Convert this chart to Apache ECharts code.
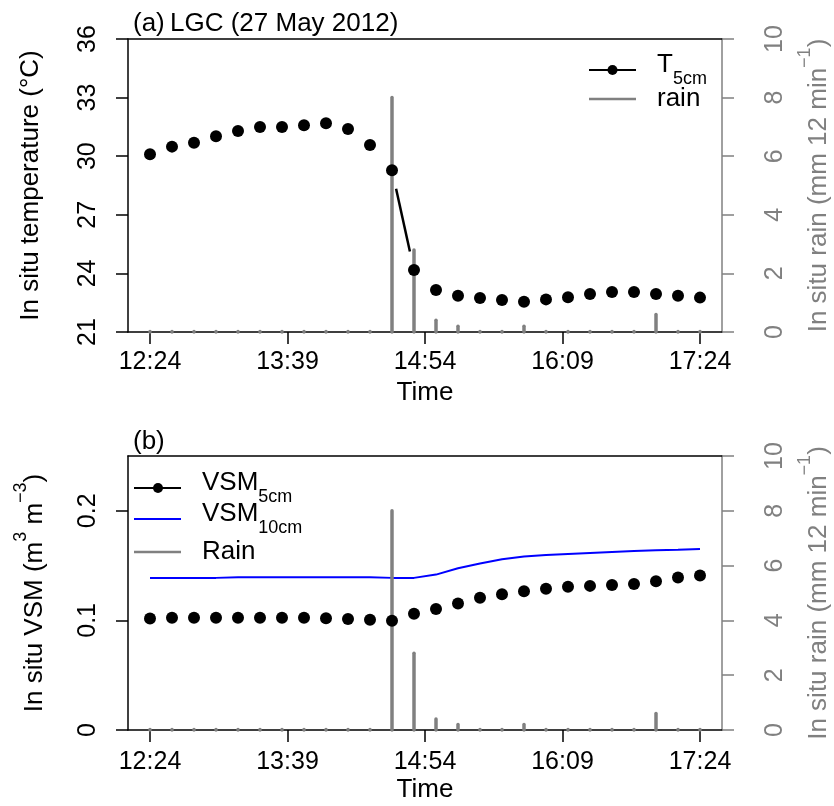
<!DOCTYPE html>
<html><head><meta charset="utf-8">
<script src="https://cdn.jsdelivr.net/npm/echarts@6/dist/echarts.min.js"></script>
<style>html,body{margin:0;padding:0;background:#fff}#c{width:834px;height:806px}</style>
</head><body><div id="c"></div>
<script>
// ---------------- data ----------------
const times = ["12:24","12:36","12:48","13:00","13:12","13:24","13:36","13:48","14:00","14:12","14:24","14:36","14:48",
               "15:00","15:12","15:24","15:36","15:48","16:00","16:12","16:24","16:36","16:48","17:00","17:12","17:24"];
const temp5cm = [30.10,30.49,30.69,31.02,31.29,31.50,31.50,31.58,31.69,31.39,30.57,29.28,24.17,
                 23.15,22.86,22.74,22.64,22.55,22.67,22.78,22.95,23.05,23.05,22.95,22.86,22.76];
const rain = [0,0,0,0,0,0,0,0,0,0,0,8.0,2.8,0.4,0.2,0,0,0.2,0,0,0,0,0,0.6,0,0];
const vsm5cm = [0.1018,0.1024,0.1024,0.1024,0.1024,0.1024,0.1024,0.1024,0.1020,0.1012,0.1006,0.0997,0.1061,
                0.1103,0.1155,0.1206,0.1239,0.1267,0.1288,0.1306,0.1315,0.1324,0.1333,0.1357,0.1391,0.1409];
const vsm10cm = [0.1388,0.1388,0.1388,0.1388,0.1394,0.1394,0.1394,0.1394,0.1394,0.1394,0.1394,0.1388,0.1388,
                 0.1418,0.1476,0.1520,0.1557,0.1582,0.1597,0.1606,0.1615,0.1624,0.1633,0.1639,0.1645,0.1652];
const timeTicks = ["12:24","13:39","14:54","16:09","17:24"];
const tempTicks = [21,24,27,30,33,36];
const vsmTicks = [0,0.1,0.2];
const rainTicks = [0,2,4,6,8,10];

// ---------------- helpers ----------------
const FONT = "'Liberation Sans', Arial, Helvetica, sans-serif";
const GRAY = '#808080';
const abs = s => { const p = s.split(':').map(Number); return p[0]*60 + p[1]; };
const base = abs(times[0]);
const toMin = s => abs(s) - base;
const fromMin = v => { const t = Math.round(v + base); return Math.floor(t/60) + ':' + String(t%60).padStart(2,'0'); };
const xs = times.map(toMin);
const span = xs[xs.length-1] - xs[0];
const xMin = xs[0] - 0.04*span, xMax = xs[xs.length-1] + 0.04*span;
const xTickVals = timeTicks.map(toMin);

const tempPts = xs.map((x,i) => [x, temp5cm[i]]);
const vsm5Pts = xs.map((x,i) => [x, vsm5cm[i]]);
const vsm10Pts = xs.map((x,i) => [x, vsm10cm[i]]);
const rainPts = xs.map((x,i) => [x, rain[i]]);
const segs = arr => arr.slice(0,-1).map((p,i) => [p[0], p[1], arr[i+1][0], arr[i+1][1]]);

function segRender(params, api) {
  const a = api.coord([api.value(0), api.value(1)]);
  const b = api.coord([api.value(2), api.value(3)]);
  const dx = b[0]-a[0], dy = b[1]-a[1], L = Math.hypot(dx, dy);
  const gap = 19;
  if (L <= 2*gap) return {type:'group', children:[]};
  const ux = dx/L, uy = dy/L;
  return {type:'line', shape:{x1:a[0]+ux*gap, y1:a[1]+uy*gap, x2:b[0]-ux*gap, y2:b[1]-uy*gap},
          style:{stroke:'#000', lineWidth:2.5, lineCap:'butt'}};
}
function rainRender(params, api) {
  const x = api.value(0), v = api.value(1);
  const p0 = api.coord([x, 0]), p1 = api.coord([x, v]);
  const y2 = Math.min(p1[1], p0[1] - 0.6);
  return {type:'line', shape:{x1:p0[0], y1:p0[1], x2:p1[0], y2:y2},
          style:{stroke:GRAY, lineWidth:3.5, lineCap:'round'}};
}

const rich = {
  m:{fontSize:26, fontFamily:FONT, lineHeight:36, verticalAlign:'bottom'},
  sup:{fontSize:18, fontFamily:FONT, lineHeight:16, verticalAlign:'top'},
  mt:{fontSize:26, fontFamily:FONT, lineHeight:36, verticalAlign:'top'},
  sub:{fontSize:18, fontFamily:FONT, lineHeight:16, verticalAlign:'bottom'}
};
function richColored(color) {
  const r = {};
  for (const k in rich) r[k] = Object.assign({color}, rich[k]);
  return r;
}

const grids = [
  {left:128, top:39, width:594, height:293, outerBoundsMode:'none', containLabel:false},
  {left:128, top:456, width:594, height:274, outerBoundsMode:'none', containLabel:false}
];

function xBottom(g, margin, nameGap) {
  return {
    type:'value', gridIndex:g, position:'bottom', min:xMin, max:xMax,
    axisLine:{show:true, onZero:false, lineStyle:{color:'#000', width:1.5}},
    axisTick:{show:true, length:12, customValues:xTickVals, lineStyle:{color:'#000', width:1.5}},
    axisLabel:{customValues:xTickVals, formatter:v => fromMin(v), color:'#000', fontSize:25, fontFamily:FONT, margin},
    splitLine:{show:false},
    name:'Time', nameLocation:'middle', nameGap,
    nameTextStyle:{color:'#000', fontSize:26, fontFamily:FONT}
  };
}
function xTop(g) {
  return {
    type:'value', gridIndex:g, position:'top', min:xMin, max:xMax,
    axisLine:{show:true, onZero:false, lineStyle:{color:'#000', width:1.5}},
    axisTick:{show:false}, axisLabel:{show:false}, splitLine:{show:false}
  };
}
function yLeft(g, min, max, ticks, name, nameGap) {
  return {
    type:'value', gridIndex:g, position:'left', min, max,
    axisLine:{show:true, onZero:false, lineStyle:{color:'#000', width:1.5}},
    axisTick:{show:true, length:12, customValues:ticks, lineStyle:{color:'#000', width:1.5}},
    axisLabel:{customValues:ticks, rotate:90, color:'#000', fontSize:25, fontFamily:FONT, margin:27,
               formatter:v => String(v)},
    splitLine:{show:false},
    name, nameLocation:'middle', nameGap,
    nameTextStyle:{color:'#000', fontSize:26, fontFamily:FONT, rich:richColored('#000')}
  };
}
function yRight(g) {
  return {
    type:'value', gridIndex:g, position:'right', min:rainTicks[0], max:rainTicks[rainTicks.length-1], interval:2,
    axisLine:{show:true, onZero:false, lineStyle:{color:GRAY, width:1.5}},
    axisTick:{show:true, length:12, lineStyle:{color:GRAY, width:1.5}},
    axisLabel:{rotate:90, color:GRAY, fontSize:25, fontFamily:FONT, margin:41},
    splitLine:{show:false},
    name:'{m|In situ rain (mm 12 min}{sup|\u22121}{m|)}', nameLocation:'middle', nameGap:70,
    nameTextStyle:{color:GRAY, fontSize:26, fontFamily:FONT, rich:richColored(GRAY)}
  };
}

const legendGraphics = [
  // panel a
  {type:'line', shape:{x1:589, y1:70, x2:636, y2:70}, style:{stroke:'#000', lineWidth:2}},
  {type:'circle', shape:{cx:612.5, cy:70, r:5}, style:{fill:'#000'}},
  {type:'text', x:657, y:70, style:{text:'{mt|T}{sub|5cm}', rich:richColored('#000'), verticalAlign:'middle', align:'left'}},
  {type:'line', shape:{x1:589, y1:99, x2:636, y2:99}, style:{stroke:GRAY, lineWidth:2.5}},
  {type:'text', x:657, y:99, style:{text:'rain', fill:'#000', font:'26px ' + FONT, verticalAlign:'middle', align:'left'}},
  // panel b
  {type:'line', shape:{x1:134, y1:488, x2:181, y2:488}, style:{stroke:'#000', lineWidth:2}},
  {type:'circle', shape:{cx:158, cy:488, r:5}, style:{fill:'#000'}},
  {type:'text', x:202, y:488, style:{text:'{mt|VSM}{sub|5cm}', rich:richColored('#000'), verticalAlign:'middle', align:'left'}},
  {type:'line', shape:{x1:134, y1:519, x2:181, y2:519}, style:{stroke:'#0000ff', lineWidth:2}},
  {type:'text', x:202, y:519, style:{text:'{mt|VSM}{sub|10cm}', rich:richColored('#000'), verticalAlign:'middle', align:'left'}},
  {type:'line', shape:{x1:134, y1:552, x2:181, y2:552}, style:{stroke:GRAY, lineWidth:2.5}},
  {type:'text', x:202, y:552, style:{text:'Rain', fill:'#000', font:'26px ' + FONT, verticalAlign:'middle', align:'left'}},
  // panel titles
  {type:'text', x:133, y:24, style:{text:'(a)', fill:'#000', font:'26px ' + FONT, verticalAlign:'middle', align:'left'}},
  {type:'text', x:170, y:24, style:{text:'LGC (27 May 2012)', fill:'#000', font:'26px ' + FONT, verticalAlign:'middle', align:'left'}},
  {type:'text', x:133, y:442, style:{text:'(b)', fill:'#000', font:'26px ' + FONT, verticalAlign:'middle', align:'left'}}
];

const option = {
  animation:false,
  backgroundColor:'#fff',
  grid:grids,
  xAxis:[xBottom(0, 18, 48), xBottom(1, 20, 47), xTop(0), xTop(1)],
  yAxis:[
    yLeft(0, tempTicks[0], tempTicks[tempTicks.length-1], tempTicks, 'In situ temperature (\u00b0C)', 84),
    yRight(0),
    yLeft(1, vsmTicks[0], 0.25, vsmTicks, '{m|In situ VSM (m}{sup|3}{m| m}{sup|\u22123}{m|)}', 80),
    yRight(1)
  ],
  series:[
    {type:'custom', xAxisIndex:0, yAxisIndex:1, data:rainPts, renderItem:rainRender, z:2, silent:true},
    {type:'custom', xAxisIndex:0, yAxisIndex:0, data:segs(tempPts), renderItem:segRender, z:3, silent:true},
    {type:'scatter', xAxisIndex:0, yAxisIndex:0, data:tempPts, symbol:'circle', symbolSize:12,
     itemStyle:{color:'#000', opacity:1}, z:4, silent:true},

    {type:'line', xAxisIndex:1, yAxisIndex:2, data:vsm10Pts, showSymbol:false, symbol:'none',
     lineStyle:{color:'#0000ff', width:2}, z:1, silent:true},
    {type:'custom', xAxisIndex:1, yAxisIndex:3, data:rainPts, renderItem:rainRender, z:2, silent:true},
    {type:'custom', xAxisIndex:1, yAxisIndex:2, data:segs(vsm5Pts), renderItem:segRender, z:3, silent:true},
    {type:'scatter', xAxisIndex:1, yAxisIndex:2, data:vsm5Pts, symbol:'circle', symbolSize:12,
     itemStyle:{color:'#000', opacity:1}, z:4, silent:true}
  ],
  graphic:legendGraphics
};

const chart = echarts.init(document.getElementById('c'), null, {renderer:'canvas'});
chart.setOption(option);
</script>
</body></html>
